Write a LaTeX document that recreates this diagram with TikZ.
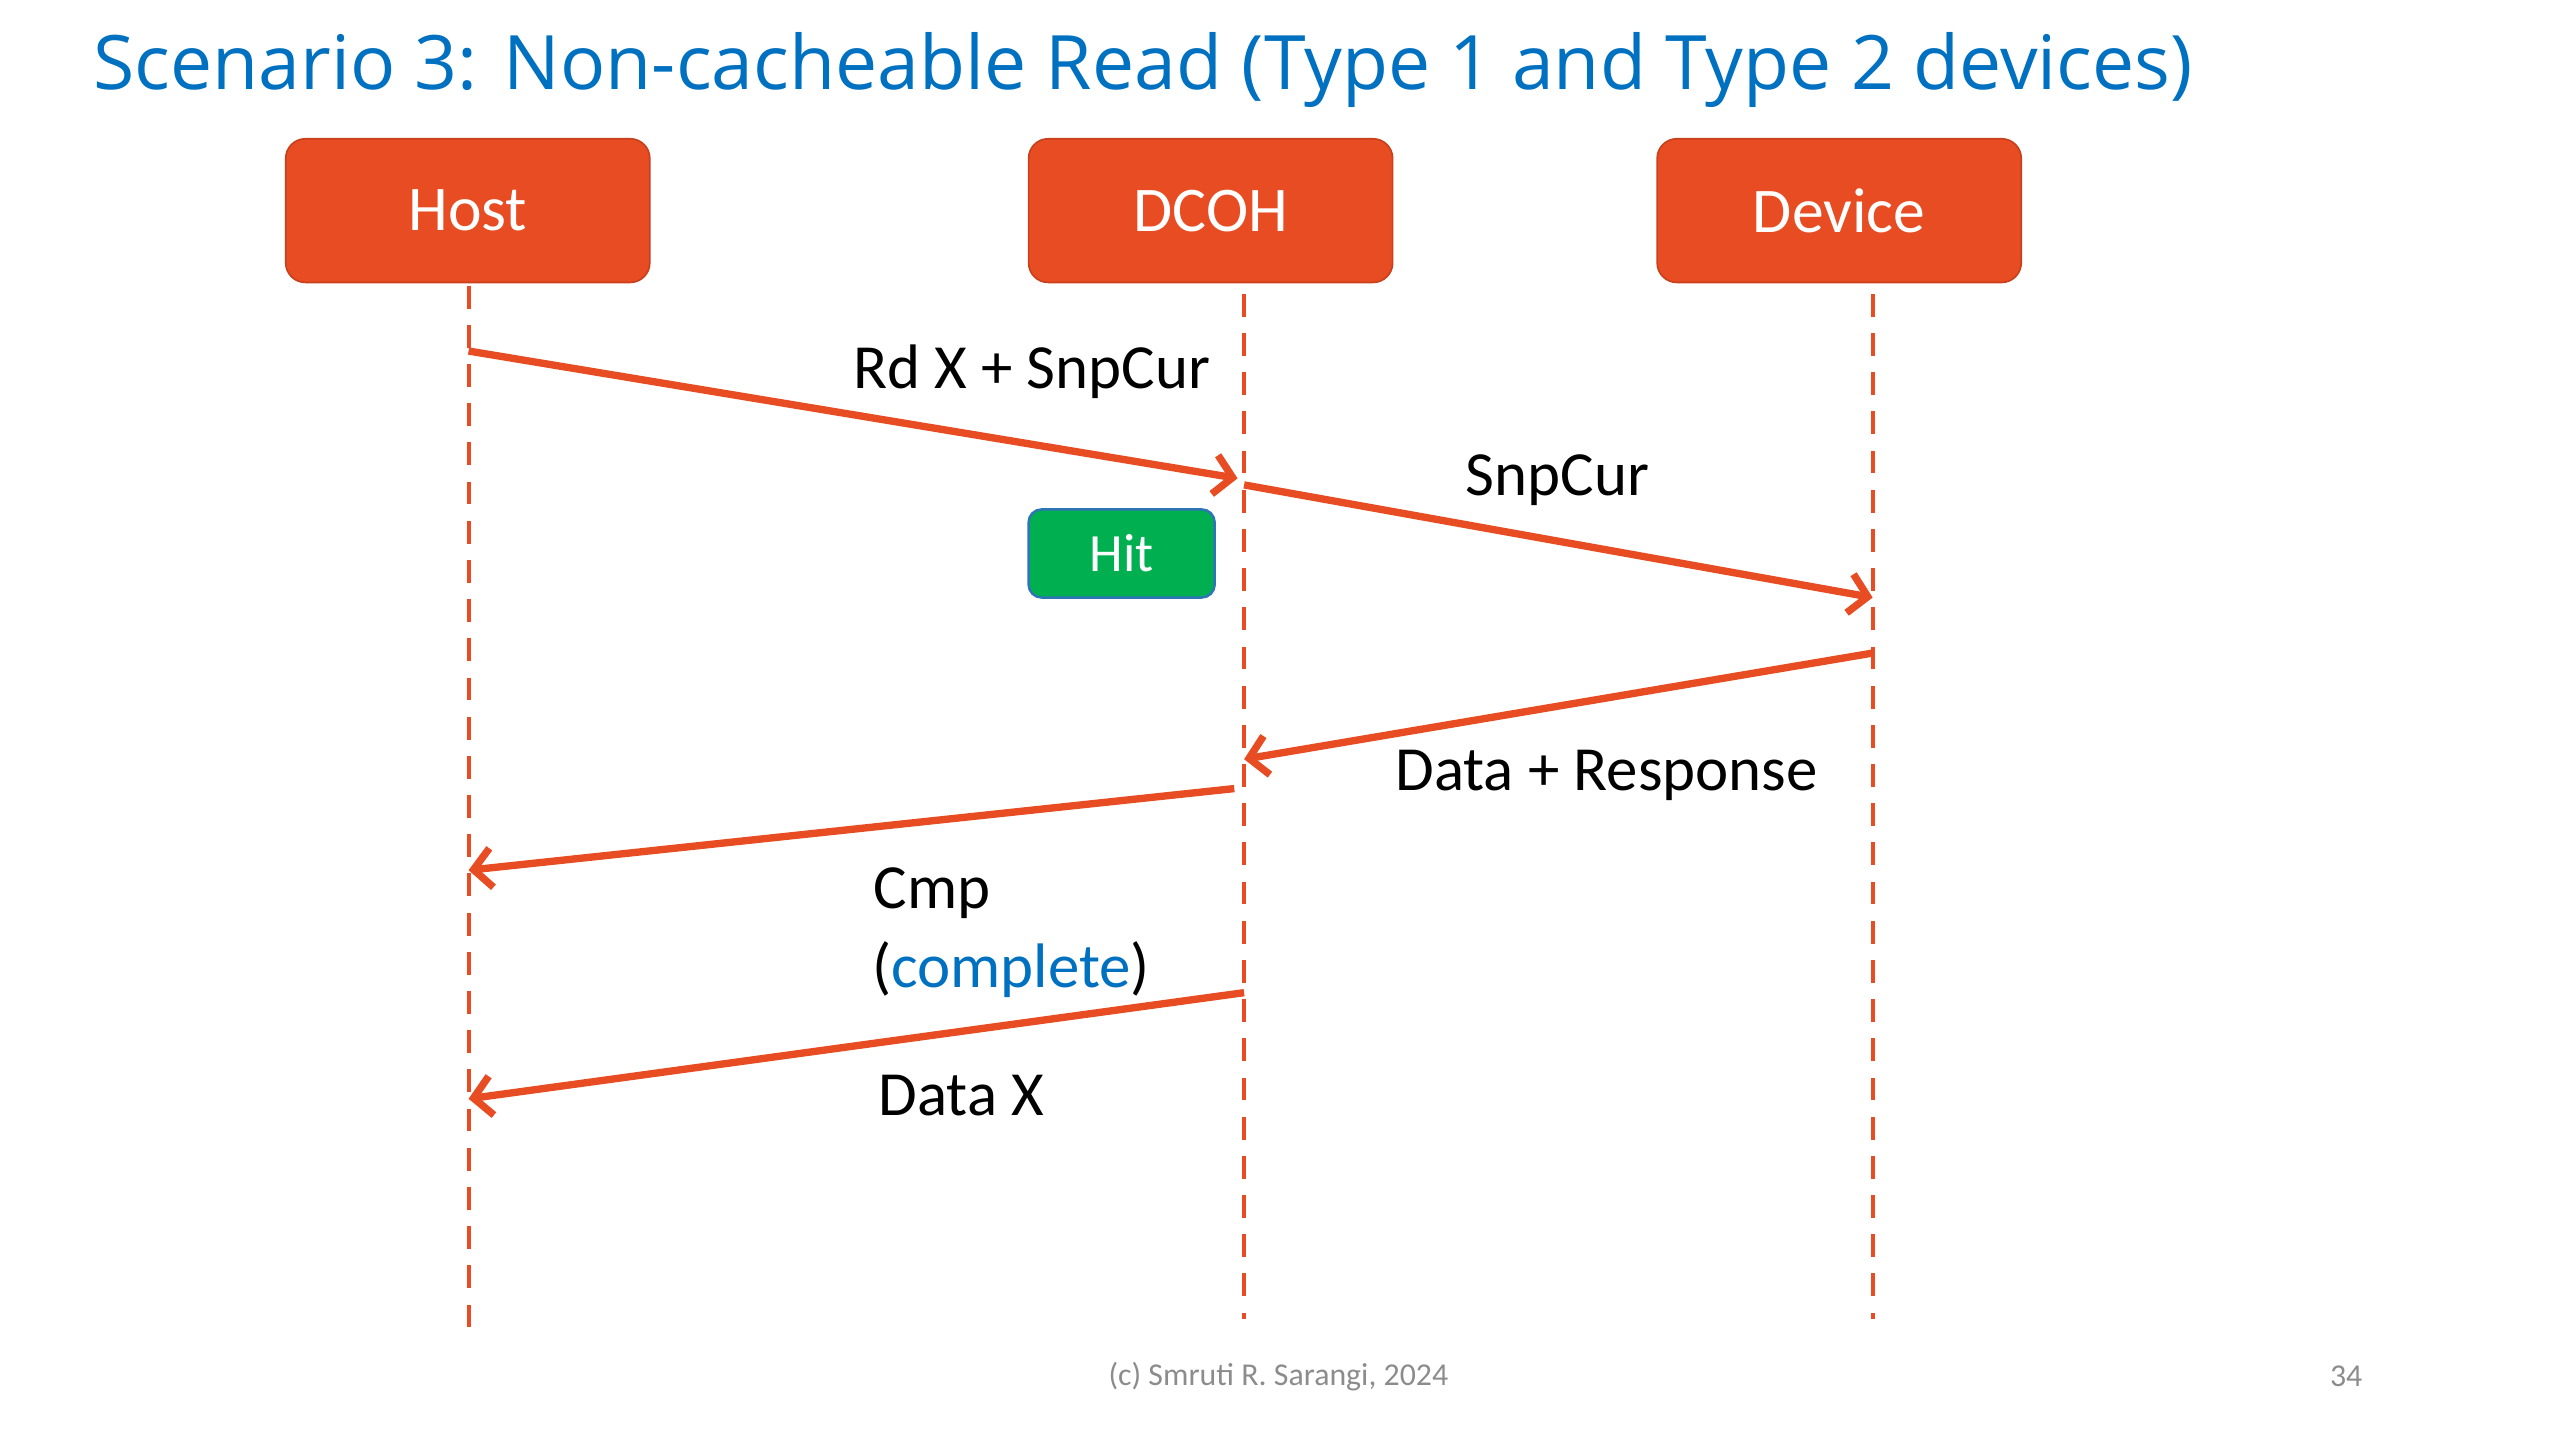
\documentclass[tikz,border=0pt]{standalone}
\usepackage{fontspec}
\setmainfont{Carlito}
\newfontfamily\titlefont{Open Sans}
\usetikzlibrary{arrows.meta}
\definecolor{boxred}{HTML}{E84C22}
\definecolor{boxedge}{HTML}{C8401C}
\definecolor{titleblue}{HTML}{0070C0}
\definecolor{hitgreen}{HTML}{00B050}
\definecolor{hitedge}{HTML}{2E75B6}
\definecolor{footgrey}{HTML}{8C8C8C}
\tikzset{
  actor/.style={draw=boxedge, line width=1pt, fill=boxred, rounded corners=12pt,
    minimum width=223pt, minimum height=88pt, text=white, font=\fontsize{39}{46}\selectfont},
  lifeline/.style={draw=boxred, line width=2.5pt, dash pattern=on 14pt off 10pt},
  msg/.style={draw=boxred, line width=4.5pt, -{Straight Barb[length=11pt,width=24pt]}},
  lbl/.style={font=\fontsize{38.5}{46}\selectfont, text=black, inner sep=0pt},
}
\begin{document}
\begin{tikzpicture}[x=1pt,y=-1pt]
\useasboundingbox (0,0) rectangle (1568,882);
% title
\node[anchor=base west, inner sep=0pt, text=titleblue, font=\titlefont\fontsize{46}{54}\selectfont] (title) at (57,55)
  {Scenario 3: Non-cacheable Read (Type 1 and Type 2 devices)};
% actors
\node[actor] (host) at (286.5,129) {Host};
\node[actor] (dcoh) at (741.5,129) {DCOH};
\node[actor] (dev) at (1126.5,129) {Device};
% lifeline ends
\coordinate (hT) at (287,175);
\coordinate (hB) at (287,821);
\coordinate (dT) at (762,180);
\coordinate (dB) at (762,808);
\coordinate (vT) at (1147,180);
\coordinate (vB) at (1147,808);
\draw[lifeline] (hT) -- (hB);
\draw[lifeline] (dT) -- (dB);
\draw[lifeline] (vT) -- (vB);
% message points
\coordinate (m1s) at (287,215);
\coordinate (m1e) at (758,293);
\coordinate (m2s) at (762,297);
\coordinate (m2e) at (1147,366);
\coordinate (m3s) at (1147,400);
\coordinate (m3e) at (762,465);
\coordinate (m4s) at (756,483);
\coordinate (m4e) at (287,533);
\coordinate (m5s) at (762,608);
\coordinate (m5e) at (287,673);
\draw[msg] (m1s) -- (m1e);
\draw[msg] (m2s) -- (m2e);
\draw[msg] (m3s) -- (m3e);
\draw[msg] (m4s) -- (m4e);
\draw[msg] (m5s) -- (m5e);
% hit box
\node[draw=hitedge, line width=1.5pt, fill=hitgreen, rounded corners=8pt, minimum width=114pt,
  minimum height=54pt, text=white, font=\fontsize{33}{40}\selectfont] (hit) at (687,339) {Hit};
% labels
\node[lbl] (l1) at (632,228) {Rd X + SnpCur};
\node[lbl] (l2) at (954,294) {SnpCur};
\node[lbl] (l3) at (984,475) {Data + Response};
\node[lbl, anchor=west] (l4) at (535,547) {Cmp};
\node[lbl, anchor=west] (l4b) at (534,594) {(\textcolor{titleblue}{complete})};
\node[lbl, anchor=west] (l5) at (538,671) {Data X};
% footer
\node[text=footgrey, font=\fontsize{19.5}{23}\selectfont] (foot) at (783,843) {(c) Smruti R. Sarangi, 2024};
\node[text=footgrey, font=\fontsize{19.5}{23}\selectfont] (page) at (1437,843) {34};
\end{tikzpicture}
\end{document}
